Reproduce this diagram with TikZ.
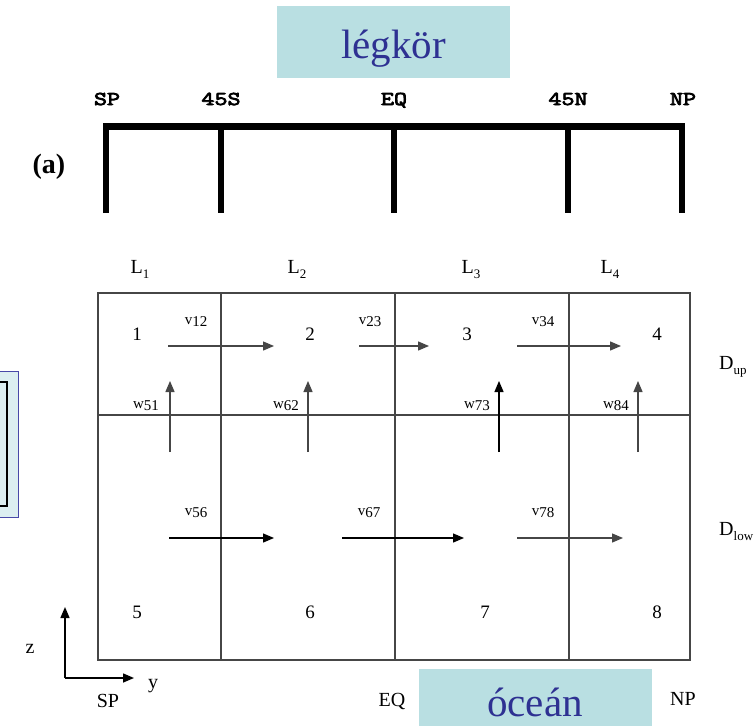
\documentclass[tikz,border=0pt]{standalone}
\usepackage{fontspec}
\setmainfont{Liberation Serif}
\newfontfamily\latfont[FakeStretch=1.3,FakeBold=4]{Latin Modern Mono}
\usetikzlibrary{positioning}
\usetikzlibrary{arrows.meta}

\definecolor{boxfill}{RGB}{185,223,226}
\definecolor{boxtext}{RGB}{46,49,146}
\definecolor{sidefill}{RGB}{220,238,241}
\definecolor{sideline}{RGB}{72,72,168}
\definecolor{gridgray}{RGB}{70,70,70}

\newcommand{\sublab}[2]{#1\raisebox{-0.25em}{\fontsize{13}{13}\selectfont #2}}
\newcommand{\flowlab}[2]{#1\raisebox{-0.15em}{#2}}

\begin{document}
\begin{tikzpicture}[x=1pt,y=-1pt,>={Triangle[length=11pt,width=9pt]},
	title box/.style={fill=boxfill,text=boxtext,font=\fontsize{41}{45}\selectfont,
		inner sep=0pt,minimum width=233pt},
	lat node/.style={font=\latfont\fontsize{19.5}{19.5}\selectfont,anchor=base},
	grid line/.style={gridgray,line width=1.5pt},
	atm line/.style={black,line width=6.5pt},
	flow/.style={->,gridgray,line width=1.3pt},
	plain node/.style={font=\fontsize{20}{20}\selectfont},
	cell node/.style={font=\fontsize{19}{19}\selectfont,anchor=base},
	flow node/.style={font=\fontsize{15}{15}\selectfont}]
	
	\useasboundingbox (0,0) rectangle (756,726);
	\clip (0,0) rectangle (756,726);
	
	% titles
	\node[title box,minimum height=72pt,text height=32pt,text depth=0pt,anchor=north] (atmo) at (393.5,6) {légkör};
	\node[title box,text height=39pt,text depth=0pt,inner ysep=9pt,anchor=south] (ocean) at (535,726) {óceán};
	
	% atmosphere box
	\node[lat node] (sp) at (107,105) {SP};
	\node[lat node] (s45) at (221,105) {45S};
	\node[lat node] (eq) at (394,105) {EQ};
	\node[lat node] (n45) at (568,105) {45N};
	\node[lat node] (np) at (683,105) {NP};
	\node[font=\bfseries\fontsize{28}{28}\selectfont] (a) at (49,167) {(a)};
	\draw[atm line] (106,213) |- (682,126.5) -- (682,213);
	\foreach \x in {221,394,568}
		\draw[atm line] (\x,126.5) -- (\x,213);
	
	% side box
	\draw[sideline,fill=sidefill,line width=1pt] (-5,371) rectangle (18,517);
	\draw[black,line width=1.6pt] (-5,382) rectangle (7,506);
	
	% ocean grid
	\draw[grid line] (98,293) rectangle (690,660);
	\draw[grid line] (98,415) -- (690,415);
	\foreach \x in {221,395,569}
		\draw[grid line] (\x,293) -- (\x,660);
	
	\node[plain node,anchor=base] (l1) at (140,273) {\sublab{L}{1}};
	\node[plain node,anchor=base] (l2) at (297,273) {\sublab{L}{2}};
	\node[plain node,anchor=base] (l3) at (471,273) {\sublab{L}{3}};
	\node[plain node,anchor=base] (l4) at (610,273) {\sublab{L}{4}};
	
	\node[plain node,anchor=west,inner xsep=1pt] (dup) at (718,367) {\sublab{D}{up}};
	\node[plain node,anchor=west,inner xsep=1pt] (dlo) at (718,532) {\sublab{D}{low}};
	
	\node[cell node] (c1) at (137,340) {1};
	\node[cell node] (c2) at (310,340) {2};
	\node[cell node] (c3) at (467,340) {3};
	\node[cell node] (c4) at (657,340) {4};
	\node[cell node] (c5) at (137,618) {5};
	\node[cell node] (c6) at (310,618) {6};
	\node[cell node] (c7) at (485,618) {7};
	\node[cell node] (c8) at (657,618) {8};
	
	% horizontal flows
	\coordinate (v12s) at (168,346);
	\coordinate (v12e) at (274,346);
	\coordinate (v23s) at (359,346);
	\coordinate (v23e) at (429,346);
	\coordinate (v34s) at (517,346);
	\coordinate (v34e) at (621,346);
	\coordinate (v56s) at (169,538);
	\coordinate (v56e) at (274,538);
	\coordinate (v67s) at (342,538);
	\coordinate (v67e) at (464,538);
	\coordinate (v78s) at (517,538);
	\coordinate (v78e) at (623,538);
	\draw[flow] (v12s) -- (v12e);
	\draw[flow] (v23s) -- (v23e);
	\draw[flow] (v34s) -- (v34e);
	\draw[flow,black] (v56s) -- (v56e);
	\draw[flow,black] (v67s) -- (v67e);
	\draw[flow] (v78s) -- (v78e);
	
	\node[flow node] (v12) at (196,322) {\flowlab{v}{12}};
	\node[flow node] (v23) at (370,322) {\flowlab{v}{23}};
	\node[flow node] (v34) at (543,322) {\flowlab{v}{34}};
	\node[flow node] (v56) at (196,513) {\flowlab{v}{56}};
	\node[flow node] (v67) at (369,513) {\flowlab{v}{67}};
	\node[flow node] (v78) at (543,513) {\flowlab{v}{78}};
	
	% vertical flows
	\foreach \x/\n in {170/51,308/62,499/73,638/84}{
		\coordinate (w\n s) at (\x,452);
		\coordinate (w\n e) at (\x,381);
	}
	\draw[flow] (w51s) -- (w51e);
	\draw[flow] (w62s) -- (w62e);
	\draw[flow,black] (w73s) -- (w73e);
	\draw[flow] (w84s) -- (w84e);
	
	\node[flow node] (w51) at (146,406) {\flowlab{w}{51}};
	\node[flow node] (w62) at (286,406) {\flowlab{w}{62}};
	\node[flow node] (w73) at (477,406) {\flowlab{w}{73}};
	\node[flow node] (w84) at (616,406) {\flowlab{w}{84}};
	
	% axes
	\coordinate (origin) at (65,678);
	\coordinate (zend) at (65,607);
	\coordinate (yend) at (134,678);
	\draw[->,black,line width=1.5pt] (origin) -- (zend);
	\draw[->,black,line width=1.5pt] (origin) -- (yend);
	\node[plain node] (z) at (30,649) {z};
	\node[plain node] (y) at (153,686) {y};
	
	\node[plain node] (bsp) at (108,701) {SP};
	\node[plain node] (beq) at (392,701) {EQ};
	\node[plain node] (bnp) at (683,699) {NP};
\end{tikzpicture}
\end{document}
